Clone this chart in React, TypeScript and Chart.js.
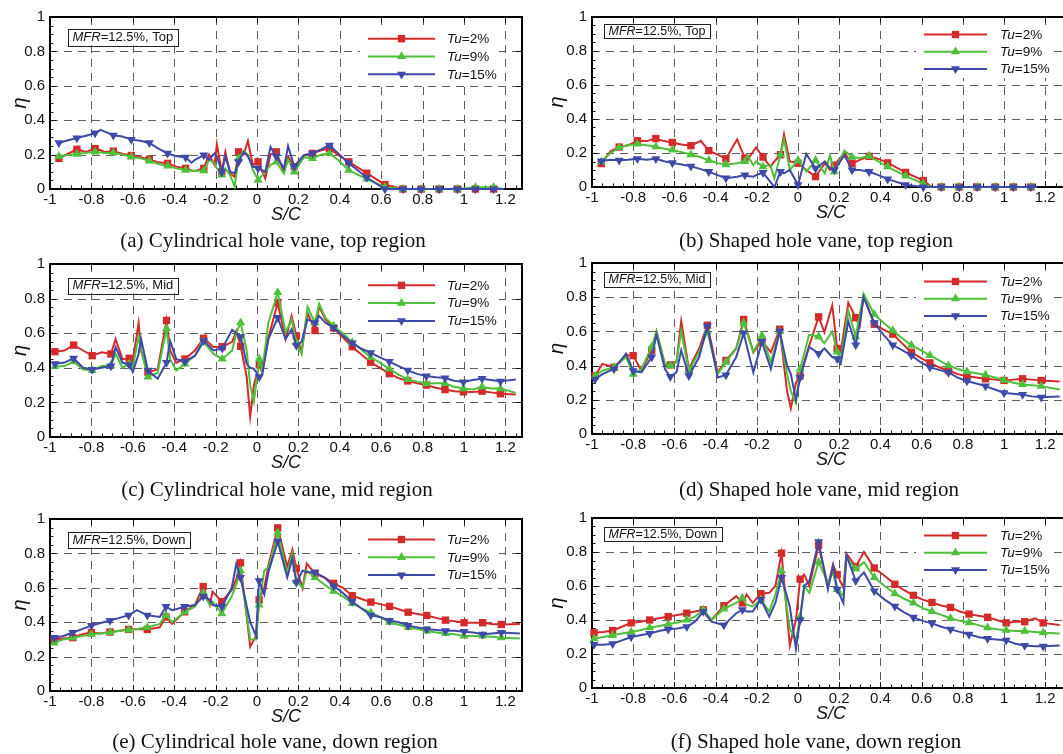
import React, { useEffect, useRef } from 'react';
import { Chart, registerables } from 'chart.js';
Chart.register(...registerables);

const SANS = "'Liberation Sans', Arial, Helvetica, sans-serif";
const SERIF = "'Liberation Serif', 'Times New Roman', Times, serif";
const RED = '#d42a2a';
const GREEN = '#4fc03b';
const BLUE = '#3e49a8';
const GRID = '#5e5e5e';

const xTicks = [-1, -0.8, -0.6, -0.4, -0.2, 0, 0.2, 0.4, 0.6, 0.8, 1, 1.2];
const yTicks = [0, 0.2, 0.4, 0.6, 0.8, 1];
const seriesLabels = ['2%', '9%', '15%'];

// ---------- (a) Cylindrical, top ----------
const aX = [-0.957, -0.913, -0.87, -0.826, -0.782, -0.755, -0.738, -0.694, -0.65, -0.607, -0.563, -0.52, -0.476, -0.432, -0.39, -0.345, -0.316, -0.3, -0.257, -0.232, -0.205, -0.194, -0.17, -0.153, -0.13, -0.108, -0.089, -0.065, -0.044, -0.02, 0.005, 0.04, 0.065, 0.093, 0.13, 0.15, 0.18, 0.227, 0.268, 0.31, 0.35, 0.39, 0.443, 0.53, 0.618, 0.705, 0.793, 0.88, 0.968, 1.055, 1.143, 1.19];
const aRed = [0.178, 0.205, 0.231, 0.215, 0.235, 0.225, 0.215, 0.22, 0.205, 0.195, 0.185, 0.172, 0.155, 0.149, 0.13, 0.12, 0.108, 0.105, 0.12, 0.2, 0.14, 0.26, 0.1, 0.216, 0.09, 0.07, 0.216, 0.2, 0.279, 0.14, 0.158, 0.061, 0.2, 0.216, 0.1, 0.188, 0.13, 0.197, 0.207, 0.225, 0.235, 0.2, 0.158, 0.092, 0.025, 0, 0, 0, 0, 0, 0, 0];
const aGreen = [0.19, 0.197, 0.203, 0.21, 0.216, 0.212, 0.21, 0.21, 0.2, 0.187, 0.178, 0.164, 0.145, 0.134, 0.12, 0.11, 0.108, 0.105, 0.107, 0.17, 0.15, 0.12, 0.082, 0.12, 0.08, 0.015, 0.178, 0.22, 0.2, 0.11, 0.052, 0.1, 0.14, 0.158, 0.09, 0.17, 0.1, 0.185, 0.178, 0.2, 0.207, 0.17, 0.11, 0.058, 0.01, 0, 0, 0, 0, 0.01, 0.01, 0];
const aBlue = [0.268, 0.283, 0.296, 0.31, 0.325, 0.344, 0.335, 0.312, 0.305, 0.287, 0.28, 0.268, 0.235, 0.207, 0.19, 0.184, 0.153, 0.17, 0.197, 0.17, 0.207, 0.19, 0.098, 0.188, 0.1, 0.09, 0.158, 0.216, 0.19, 0.13, 0.12, 0.1, 0.245, 0.19, 0.12, 0.25, 0.13, 0.197, 0.207, 0.23, 0.254, 0.21, 0.15, 0.067, 0, 0, 0, 0, 0, 0, 0, 0];
const aMarks = [-0.957, -0.87, -0.782, -0.694, -0.607, -0.52, -0.432, -0.345, -0.257, -0.17, -0.089, 0.005, 0.093, 0.18, 0.268, 0.35, 0.443, 0.53, 0.618, 0.705, 0.793, 0.88, 0.968, 1.055, 1.143];

// ---------- (b) Shaped, top ----------
const bX = [-0.955, -0.91, -0.868, -0.825, -0.78, -0.735, -0.69, -0.65, -0.61, -0.565, -0.52, -0.472, -0.433, -0.39, -0.35, -0.296, -0.258, -0.245, -0.217, -0.204, -0.17, -0.134, -0.115, -0.085, -0.068, -0.04, 0.0, 0.04, 0.085, 0.13, 0.155, 0.176, 0.225, 0.262, 0.3, 0.345, 0.39, 0.435, 0.522, 0.608, 0.65, 0.695, 0.782, 0.87, 0.957, 1.045, 1.13, 1.16];
const bRed = [0.138, 0.21, 0.235, 0.245, 0.272, 0.27, 0.285, 0.27, 0.262, 0.25, 0.243, 0.272, 0.214, 0.19, 0.166, 0.28, 0.17, 0.16, 0.21, 0.233, 0.176, 0.119, 0.15, 0.19, 0.31, 0.15, 0.14, 0.1, 0.061, 0.14, 0.1, 0.128, 0.2, 0.138, 0.16, 0.18, 0.165, 0.142, 0.086, 0.038, 0, 0, 0, 0, 0, 0, 0, 0];
const bGreen = [0.147, 0.2, 0.233, 0.245, 0.253, 0.245, 0.237, 0.225, 0.218, 0.205, 0.191, 0.175, 0.157, 0.14, 0.132, 0.14, 0.15, 0.186, 0.128, 0.15, 0.119, 0.13, 0.05, 0.19, 0.28, 0.1, 0.157, 0.09, 0.157, 0.08, 0.186, 0.09, 0.214, 0.176, 0.17, 0.182, 0.15, 0.119, 0.065, 0.019, 0, 0, 0, 0, 0, 0, 0, 0];
const bBlue = [0.153, 0.16, 0.157, 0.16, 0.166, 0.16, 0.166, 0.152, 0.142, 0.132, 0.122, 0.105, 0.09, 0.07, 0.052, 0.06, 0.07, 0.065, 0.06, 0.07, 0.084, 0.03, 0, 0.09, 0.08, 0.1, 0.013, 0.195, 0.109, 0.15, 0.11, 0.1, 0.186, 0.1, 0.1, 0.09, 0.07, 0.046, 0.013, 0, 0, 0, 0, 0, 0, 0, 0, 0];
const bMarks = [-0.955, -0.868, -0.78, -0.69, -0.61, -0.52, -0.433, -0.35, -0.258, -0.17, -0.085, 0.0, 0.085, 0.176, 0.262, 0.345, 0.435, 0.522, 0.608, 0.695, 0.782, 0.87, 0.957, 1.045, 1.13];

// ---------- (c) Cylindrical, mid ----------
const cX = [-0.976, -0.93, -0.886, -0.84, -0.796, -0.75, -0.706, -0.683, -0.65, -0.617, -0.6, -0.572, -0.56, -0.527, -0.48, -0.437, -0.42, -0.39, -0.348, -0.3, -0.258, -0.21, -0.168, -0.12, -0.1, -0.079, -0.05, -0.033, -0.015, 0.011, 0.025, 0.055, 0.1, 0.138, 0.167, 0.19, 0.215, 0.244, 0.28, 0.3, 0.33, 0.37, 0.415, 0.46, 0.505, 0.549, 0.594, 0.639, 0.684, 0.728, 0.773, 0.818, 0.863, 0.908, 0.952, 0.997, 1.042, 1.087, 1.13, 1.176, 1.25];
const cRed = [0.493, 0.5, 0.531, 0.5, 0.47, 0.49, 0.48, 0.566, 0.45, 0.455, 0.44, 0.66, 0.5, 0.375, 0.39, 0.674, 0.5, 0.43, 0.451, 0.5, 0.571, 0.52, 0.522, 0.55, 0.613, 0.524, 0.35, 0.118, 0.3, 0.417, 0.375, 0.575, 0.775, 0.566, 0.7, 0.585, 0.49, 0.718, 0.615, 0.756, 0.68, 0.63, 0.575, 0.522, 0.475, 0.432, 0.4, 0.366, 0.34, 0.324, 0.31, 0.3, 0.285, 0.274, 0.265, 0.261, 0.26, 0.265, 0.258, 0.25, 0.246];
const cGreen = [0.408, 0.41, 0.436, 0.39, 0.385, 0.41, 0.413, 0.48, 0.4, 0.423, 0.4, 0.58, 0.5, 0.347, 0.37, 0.627, 0.45, 0.385, 0.423, 0.47, 0.55, 0.48, 0.451, 0.5, 0.6, 0.661, 0.5, 0.3, 0.204, 0.451, 0.38, 0.661, 0.836, 0.604, 0.68, 0.547, 0.48, 0.752, 0.66, 0.77, 0.69, 0.642, 0.6, 0.547, 0.505, 0.46, 0.43, 0.394, 0.36, 0.333, 0.32, 0.309, 0.31, 0.31, 0.29, 0.28, 0.275, 0.29, 0.28, 0.28, 0.255];
const cBlue = [0.423, 0.43, 0.455, 0.4, 0.39, 0.4, 0.41, 0.52, 0.43, 0.417, 0.375, 0.48, 0.566, 0.385, 0.337, 0.43, 0.556, 0.45, 0.436, 0.47, 0.556, 0.5, 0.512, 0.62, 0.6, 0.579, 0.423, 0.4, 0.394, 0.347, 0.36, 0.566, 0.69, 0.566, 0.623, 0.528, 0.55, 0.68, 0.66, 0.7, 0.66, 0.632, 0.585, 0.543, 0.51, 0.486, 0.46, 0.436, 0.41, 0.385, 0.365, 0.352, 0.345, 0.341, 0.325, 0.318, 0.33, 0.337, 0.33, 0.322, 0.333];
const cMarks = [-0.976, -0.886, -0.796, -0.706, -0.617, -0.527, -0.437, -0.348, -0.258, -0.168, -0.079, 0.011, 0.1, 0.19, 0.28, 0.37, 0.46, 0.549, 0.639, 0.728, 0.818, 0.908, 0.997, 1.087, 1.176];

// ---------- (d) Shaped, mid ----------
const dX = [-0.985, -0.95, -0.893, -0.835, -0.8, -0.76, -0.71, -0.687, -0.646, -0.62, -0.59, -0.567, -0.53, -0.48, -0.44, -0.39, -0.35, -0.3, -0.264, -0.217, -0.175, -0.132, -0.089, -0.053, -0.035, -0.01, 0.01, 0.054, 0.1, 0.128, 0.166, 0.19, 0.207, 0.244, 0.28, 0.3, 0.318, 0.37, 0.415, 0.46, 0.505, 0.55, 0.595, 0.64, 0.685, 0.73, 0.775, 0.82, 0.865, 0.91, 0.955, 1.0, 1.045, 1.09, 1.135, 1.18, 1.27];
const dRed = [0.34, 0.41, 0.39, 0.46, 0.458, 0.37, 0.49, 0.6, 0.404, 0.404, 0.42, 0.66, 0.38, 0.5, 0.636, 0.36, 0.43, 0.5, 0.67, 0.478, 0.545, 0.478, 0.613, 0.25, 0.15, 0.3, 0.34, 0.516, 0.685, 0.594, 0.752, 0.5, 0.478, 0.768, 0.68, 0.632, 0.807, 0.642, 0.61, 0.584, 0.53, 0.478, 0.445, 0.416, 0.39, 0.371, 0.35, 0.338, 0.33, 0.323, 0.318, 0.313, 0.318, 0.323, 0.318, 0.313, 0.307];
const dGreen = [0.34, 0.37, 0.39, 0.45, 0.35, 0.38, 0.51, 0.6, 0.41, 0.4, 0.42, 0.6, 0.37, 0.48, 0.6, 0.35, 0.42, 0.5, 0.65, 0.48, 0.575, 0.42, 0.6, 0.35, 0.25, 0.18, 0.38, 0.58, 0.57, 0.53, 0.6, 0.48, 0.43, 0.72, 0.57, 0.7, 0.82, 0.7, 0.65, 0.605, 0.56, 0.52, 0.49, 0.46, 0.43, 0.4, 0.38, 0.365, 0.355, 0.345, 0.33, 0.315, 0.3, 0.29, 0.285, 0.28, 0.26];
const dBlue = [0.32, 0.35, 0.38, 0.47, 0.37, 0.36, 0.45, 0.58, 0.38, 0.335, 0.36, 0.49, 0.34, 0.45, 0.63, 0.33, 0.345, 0.45, 0.59, 0.36, 0.54, 0.38, 0.6, 0.4, 0.35, 0.2, 0.33, 0.51, 0.47, 0.5, 0.45, 0.44, 0.41, 0.66, 0.52, 0.65, 0.8, 0.65, 0.58, 0.52, 0.49, 0.46, 0.42, 0.39, 0.375, 0.36, 0.33, 0.31, 0.295, 0.28, 0.26, 0.24, 0.235, 0.23, 0.22, 0.215, 0.22];
const dMarks = [-0.985, -0.893, -0.8, -0.71, -0.62, -0.53, -0.44, -0.35, -0.264, -0.175, -0.089, 0.01, 0.1, 0.19, 0.28, 0.37, 0.46, 0.55, 0.64, 0.73, 0.82, 0.91, 1.0, 1.09, 1.18];

// ---------- (e) Cylindrical, down ----------
const eX = [-0.98, -0.935, -0.89, -0.845, -0.8, -0.755, -0.71, -0.665, -0.62, -0.58, -0.53, -0.47, -0.44, -0.41, -0.35, -0.3, -0.26, -0.228, -0.215, -0.17, -0.122, -0.1, -0.08, -0.033, -0.005, 0.01, 0.035, 0.057, 0.1, 0.146, 0.171, 0.19, 0.22, 0.24, 0.28, 0.325, 0.37, 0.415, 0.46, 0.505, 0.55, 0.595, 0.64, 0.685, 0.73, 0.775, 0.82, 0.865, 0.91, 0.955, 1.0, 1.045, 1.09, 1.135, 1.18, 1.27];
const eRed = [0.3, 0.305, 0.31, 0.33, 0.34, 0.335, 0.343, 0.35, 0.358, 0.36, 0.358, 0.37, 0.43, 0.39, 0.46, 0.5, 0.607, 0.5, 0.578, 0.52, 0.588, 0.65, 0.745, 0.258, 0.32, 0.53, 0.6, 0.741, 0.948, 0.722, 0.822, 0.713, 0.598, 0.741, 0.684, 0.66, 0.626, 0.6, 0.554, 0.535, 0.517, 0.505, 0.492, 0.475, 0.458, 0.448, 0.439, 0.425, 0.412, 0.405, 0.397, 0.397, 0.397, 0.39, 0.387, 0.389];
const eGreen = [0.28, 0.3, 0.31, 0.32, 0.33, 0.335, 0.34, 0.35, 0.355, 0.36, 0.37, 0.39, 0.44, 0.4, 0.46, 0.49, 0.57, 0.5, 0.52, 0.45, 0.55, 0.62, 0.7, 0.3, 0.3, 0.5, 0.7, 0.72, 0.92, 0.68, 0.8, 0.64, 0.6, 0.7, 0.66, 0.62, 0.58, 0.55, 0.51, 0.48, 0.455, 0.43, 0.4, 0.385, 0.37, 0.36, 0.35, 0.34, 0.335, 0.33, 0.32, 0.32, 0.32, 0.315, 0.31, 0.305];
const eBlue = [0.31, 0.32, 0.34, 0.36, 0.38, 0.395, 0.41, 0.425, 0.44, 0.47, 0.44, 0.43, 0.49, 0.47, 0.49, 0.5, 0.55, 0.53, 0.5, 0.49, 0.6, 0.74, 0.66, 0.4, 0.32, 0.64, 0.56, 0.7, 0.87, 0.66, 0.77, 0.63, 0.7, 0.69, 0.69, 0.66, 0.61, 0.57, 0.52, 0.48, 0.44, 0.43, 0.41, 0.4, 0.38, 0.37, 0.36, 0.355, 0.35, 0.35, 0.345, 0.34, 0.33, 0.335, 0.34, 0.335];
const eMarks = [-0.98, -0.89, -0.8, -0.71, -0.62, -0.53, -0.44, -0.35, -0.26, -0.17, -0.08, 0.01, 0.1, 0.19, 0.28, 0.37, 0.46, 0.55, 0.64, 0.73, 0.82, 0.91, 1.0, 1.09, 1.18];

// ---------- (f) Shaped, down ----------
const fX = [-0.99, -0.945, -0.9, -0.855, -0.81, -0.765, -0.72, -0.675, -0.63, -0.585, -0.54, -0.5, -0.46, -0.42, -0.36, -0.3, -0.27, -0.25, -0.22, -0.18, -0.14, -0.11, -0.08, -0.04, -0.01, 0.01, 0.03, 0.055, 0.1, 0.145, 0.17, 0.19, 0.22, 0.235, 0.28, 0.32, 0.37, 0.42, 0.47, 0.515, 0.56, 0.605, 0.65, 0.695, 0.74, 0.785, 0.83, 0.875, 0.92, 0.965, 1.01, 1.055, 1.1, 1.15, 1.19, 1.27];
const fRed = [0.325, 0.33, 0.338, 0.36, 0.383, 0.39, 0.4, 0.41, 0.42, 0.43, 0.44, 0.45, 0.46, 0.4, 0.484, 0.54, 0.5, 0.55, 0.5, 0.555, 0.56, 0.6, 0.793, 0.25, 0.4, 0.64, 0.667, 0.6, 0.84, 0.6, 0.725, 0.667, 0.59, 0.79, 0.715, 0.8, 0.706, 0.66, 0.61, 0.575, 0.545, 0.52, 0.503, 0.485, 0.474, 0.45, 0.435, 0.425, 0.416, 0.4, 0.383, 0.39, 0.39, 0.41, 0.383, 0.37];
const fGreen = [0.29, 0.3, 0.31, 0.32, 0.33, 0.34, 0.355, 0.365, 0.375, 0.385, 0.4, 0.42, 0.46, 0.4, 0.465, 0.5, 0.53, 0.49, 0.48, 0.52, 0.45, 0.55, 0.69, 0.35, 0.28, 0.42, 0.6, 0.56, 0.74, 0.62, 0.68, 0.58, 0.54, 0.77, 0.7, 0.74, 0.65, 0.6, 0.555, 0.525, 0.5, 0.47, 0.45, 0.43, 0.41, 0.395, 0.385, 0.37, 0.355, 0.345, 0.34, 0.335, 0.335, 0.33, 0.325, 0.32];
const fBlue = [0.255, 0.255, 0.26, 0.28, 0.3, 0.31, 0.32, 0.335, 0.345, 0.35, 0.36, 0.39, 0.45, 0.39, 0.37, 0.44, 0.46, 0.45, 0.45, 0.52, 0.42, 0.5, 0.65, 0.48, 0.23, 0.4, 0.6, 0.63, 0.86, 0.58, 0.72, 0.58, 0.5, 0.78, 0.63, 0.68, 0.57, 0.52, 0.48, 0.445, 0.415, 0.395, 0.38, 0.36, 0.345, 0.33, 0.315, 0.3, 0.29, 0.285, 0.28, 0.26, 0.25, 0.245, 0.245, 0.25];
const fMarks = [-0.99, -0.9, -0.81, -0.72, -0.63, -0.54, -0.46, -0.36, -0.27, -0.18, -0.08, 0.01, 0.1, 0.19, 0.28, 0.37, 0.47, 0.56, 0.65, 0.74, 0.83, 0.92, 1.01, 1.1, 1.19];

// ---------- layout (not data) ----------
const LP = 50, TP = 12, RP = 10, BP = 52;

type Panel = {
  id: string; x: number[]; s: number[][]; marks: number[]; region: string; caption: string;
  left: number; top: number; width: number; height: number; xMax: number; etaPad: number;
  lx: number; ly: number; rowH: number; lineLen: number; gap: number; lfont: number;
  bx: number; by: number; bh: number; bfont: number; capX: number; capY: number;
};

const LEFTG = { left: 50, width: 472, xMax: 1.28, etaPad: 10, lx: 318, rowH: 17.8, lineLen: 67, gap: 12, lfont: 13.5, bx: 18, bfont: 13 };
const RIGHTG = { left: 592, width: 478, xMax: 1.32, etaPad: 5, lx: 332, rowH: 17.2, lineLen: 63, gap: 13, lfont: 13.5, bx: 12, bfont: 12.5 };

const PANELS: Panel[] = [
  { id: 'a', x: aX, s: [aRed, aGreen, aBlue], marks: aMarks, region: 'Top', caption: '(a) Cylindrical hole vane, top region', ...LEFTG, top: 15, height: 174, ly: 21.7, by: 11.7, bh: 16.5, capX: 273, capY: 240 },
  { id: 'b', x: bX, s: [bRed, bGreen, bBlue], marks: bMarks, region: 'Top', caption: '(b) Shaped hole vane, top region', ...RIGHTG, top: 15, height: 172, ly: 17.5, by: 6.7, bh: 14, capX: 816, capY: 240 },
  { id: 'c', x: cX, s: [cRed, cGreen, cBlue], marks: cMarks, region: 'Mid', caption: '(c) Cylindrical hole vane, mid region', ...LEFTG, top: 262, height: 175, ly: 21.3, by: 13.5, bh: 15.5, capX: 277, capY: 489 },
  { id: 'd', x: dX, s: [dRed, dGreen, dBlue], marks: dMarks, region: 'Mid', caption: '(d) Shaped hole vane, mid region', ...RIGHTG, top: 261, height: 173, ly: 18.5, by: 9, bh: 15, capX: 819, capY: 489 },
  { id: 'e', x: eX, s: [eRed, eGreen, eBlue], marks: eMarks, region: 'Down', caption: '(e) Cylindrical hole vane, down region', ...LEFTG, top: 517, height: 174, ly: 20.5, by: 13, bh: 15.5, capX: 275, capY: 741 },
  { id: 'f', x: fX, s: [fRed, fGreen, fBlue], marks: fMarks, region: 'Down', caption: '(f) Shaped hole vane, down region', ...RIGHTG, top: 516, height: 172, ly: 17.5, by: 9, bh: 14, capX: 816, capY: 741 },
];

const COLORS = [RED, GREEN, BLUE];
const STYLES = ['rect', 'triangle', 'triangle'];
const ROT = [0, 0, 180];
const MR = 5.2;

function marker(ctx: CanvasRenderingContext2D, k: number, x: number, y: number, r: number, color: string) {
  ctx.fillStyle = color;
  ctx.beginPath();
  if (k === 0) {
    const s = r * Math.SQRT1_2;
    ctx.rect(x - s, y - s, 2 * s, 2 * s);
  } else {
    const d = k === 1 ? 1 : -1;
    ctx.moveTo(x, y - d * r);
    ctx.lineTo(x + 0.866 * r, y + d * 0.5 * r);
    ctx.lineTo(x - 0.866 * r, y + d * 0.5 * r);
    ctx.closePath();
  }
  ctx.fill();
}

function mixedText(ctx: CanvasRenderingContext2D, x: number, y: number, italic: string, rest: string, size: number) {
  ctx.textBaseline = 'middle';
  ctx.textAlign = 'left';
  ctx.fillStyle = '#111';
  ctx.font = `italic ${size}px ${SANS}`;
  ctx.fillText(italic, x, y);
  const w = ctx.measureText(italic).width;
  ctx.font = `${size}px ${SANS}`;
  ctx.fillText(rest, x + w, y);
  return w + ctx.measureText(rest).width;
}

function decor(p: Panel) {
  return {
    id: 'decor' + p.id,
    beforeDatasetsDraw(chart: any) {
      const { ctx, chartArea: a, scales } = chart;
      const xs = scales.x, ys = scales.y;
      ctx.save();
      ctx.strokeStyle = GRID;
      ctx.lineWidth = 1;
      ctx.setLineDash([8, 6]);
      ctx.beginPath();
      for (const v of xTicks) {
        if (v <= -1 || v >= p.xMax) continue;
        const px = Math.round(xs.getPixelForValue(v)) + 0.5;
        ctx.moveTo(px, a.top); ctx.lineTo(px, a.bottom);
      }
      for (const v of yTicks) {
        if (v <= 0 || v >= 1) continue;
        const py = Math.round(ys.getPixelForValue(v)) + 0.5;
        ctx.moveTo(a.left, py); ctx.lineTo(a.right, py);
      }
      ctx.stroke();
      ctx.setLineDash([]);
      ctx.strokeStyle = '#111';
      ctx.beginPath();
      for (let i = 0; ; i++) {
        const v = -1 + i * 0.05;
        if (v > p.xMax + 1e-9) break;
        const major = i % 4 === 0;
        const len = major ? 6 : 3.5;
        const px = Math.round(xs.getPixelForValue(v)) + 0.5;
        ctx.moveTo(px, a.bottom); ctx.lineTo(px, a.bottom - len);
        if (major) { ctx.moveTo(px, a.top); ctx.lineTo(px, a.top + len); }
      }
      for (let i = 0; i <= 20; i++) {
        const v = i * 0.05;
        const major = i % 4 === 0;
        const len = major ? 6 : 3.5;
        const py = Math.round(ys.getPixelForValue(v)) + 0.5;
        ctx.moveTo(a.left, py); ctx.lineTo(a.left + len, py);
        if (major) { ctx.moveTo(a.right, py); ctx.lineTo(a.right - len, py); }
      }
      ctx.stroke();
      ctx.lineWidth = 2;
      ctx.strokeStyle = '#000';
      ctx.strokeRect(a.left, a.top, a.right - a.left, a.bottom - a.top);
      ctx.restore();
    },
    afterDatasetsDraw(chart: any) {
      const { ctx, chartArea: a } = chart;
      ctx.save();
      // legend
      const lx = a.left + p.lx, ly = a.top + p.ly;
      ctx.fillStyle = '#fff';
      ctx.fillRect(lx - 8, ly - 9, p.lineLen + p.gap + 60, p.rowH * 2 + 18);
      for (let k = 0; k < 3; k++) {
        const y = ly + k * p.rowH;
        ctx.strokeStyle = COLORS[k];
        ctx.lineWidth = 2;
        ctx.beginPath(); ctx.moveTo(lx, y); ctx.lineTo(lx + p.lineLen, y); ctx.stroke();
        marker(ctx, k, lx + p.lineLen / 2, y, MR, COLORS[k]);
        mixedText(ctx, lx + p.lineLen + p.gap, y + 0.5, 'Tu', '=' + seriesLabels[k], p.lfont);
      }
      // MFR box
      ctx.font = `italic ${p.bfont}px ${SANS}`;
      const w1 = ctx.measureText('MFR').width;
      ctx.font = `${p.bfont}px ${SANS}`;
      const rest = '=12.5%, ' + p.region;
      const w2 = ctx.measureText(rest).width;
      const bx = a.left + p.bx, by = a.top + p.by;
      const bw = w1 + w2 + 9;
      ctx.fillStyle = '#fff';
      ctx.fillRect(bx, by, bw, p.bh);
      ctx.strokeStyle = '#222';
      ctx.lineWidth = 1;
      ctx.strokeRect(Math.round(bx) + 0.5, Math.round(by) + 0.5, Math.round(bw), Math.round(p.bh));
      mixedText(ctx, bx + 4.5, by + p.bh / 2 + 0.5, 'MFR', rest, p.bfont);
      ctx.restore();
    },
  };
}

function PanelChart({ p }: { p: Panel }) {
  const ref = useRef<HTMLCanvasElement>(null);
  const W = LP + p.width + RP;
  const H = TP + p.height + BP;
  useEffect(() => {
    const datasets = p.s.map((ys, k) => ({
      label: 'Tu=' + seriesLabels[k],
      data: p.x.map((xv, i) => ({ x: xv, y: ys[i] })),
      borderColor: COLORS[k],
      backgroundColor: COLORS[k],
      borderWidth: 2,
      tension: 0,
      clip: false as any,
      pointStyle: STYLES[k] as any,
      pointRotation: ROT[k],
      pointBackgroundColor: COLORS[k],
      pointBorderWidth: 0,
      pointRadius: (c: any) => (p.marks.includes(p.x[c.dataIndex]) ? MR : 0),
      pointHoverRadius: 0,
      order: 3 - k,
    }));
    const chart = new Chart(ref.current!, {
      type: 'line',
      data: { datasets },
      options: {
        animation: false,
        responsive: false,
        maintainAspectRatio: false,
        devicePixelRatio: 1,
        events: [],
        layout: { padding: { left: 0, top: TP, right: RP, bottom: 0 } },
        plugins: { legend: { display: false }, tooltip: { enabled: false }, title: { display: false } },
        scales: {
          x: {
            type: 'linear', min: -1, max: p.xMax,
            afterBuildTicks: (s: any) => { s.ticks = xTicks.map((v) => ({ value: v })); },
            afterFit: (s: any) => { s.height = BP; },
            grid: { display: false, drawTicks: false },
            border: { display: false },
            ticks: { autoSkip: false, maxRotation: 0, minRotation: 0, padding: 2, color: '#111', font: { family: SANS, size: 15 }, callback: (v: any) => String(v) },
            title: { display: true, text: 'S/C', color: '#111', font: { family: SANS, size: 18, style: 'italic', lineHeight: 1 }, padding: { top: 0, bottom: 17 } },
          },
          y: {
            type: 'linear', min: 0, max: 1,
            afterBuildTicks: (s: any) => { s.ticks = yTicks.map((v) => ({ value: v })); },
            afterFit: (s: any) => { s.width = LP; },
            grid: { display: false, drawTicks: false },
            border: { display: false },
            ticks: { autoSkip: false, padding: 5, color: '#111', font: { family: SANS, size: 15 }, callback: (v: any) => String(v) },
            title: { display: true, text: 'η', color: '#111', font: { family: SANS, size: 20, style: 'italic', lineHeight: 1 }, padding: { top: p.etaPad, bottom: 0 } },
          },
        },
      } as any,
      plugins: [decor(p)],
    });
    return () => chart.destroy();
  }, []);
  return (
    <canvas
      ref={ref}
      width={W}
      height={H}
      style={{ position: 'absolute', left: p.left - LP, top: p.top - TP, width: W, height: H }}
    />
  );
}

export default function App() {
  return (
    <div style={{ position: 'absolute', left: 0, top: 0, width: 1063, height: 754, overflow: 'hidden', background: '#fff' }}>
      {PANELS.map((p) => (
        <PanelChart key={p.id} p={p} />
      ))}
      {PANELS.map((p) => (
        <div
          key={'cap' + p.id}
          style={{ position: 'absolute', left: p.capX - 260, width: 520, top: p.capY - 12, height: 24, lineHeight: '24px', textAlign: 'center', fontFamily: SERIF, fontSize: 21, color: '#111', whiteSpace: 'nowrap' }}
        >
          {p.caption}
        </div>
      ))}
    </div>
  );
}
